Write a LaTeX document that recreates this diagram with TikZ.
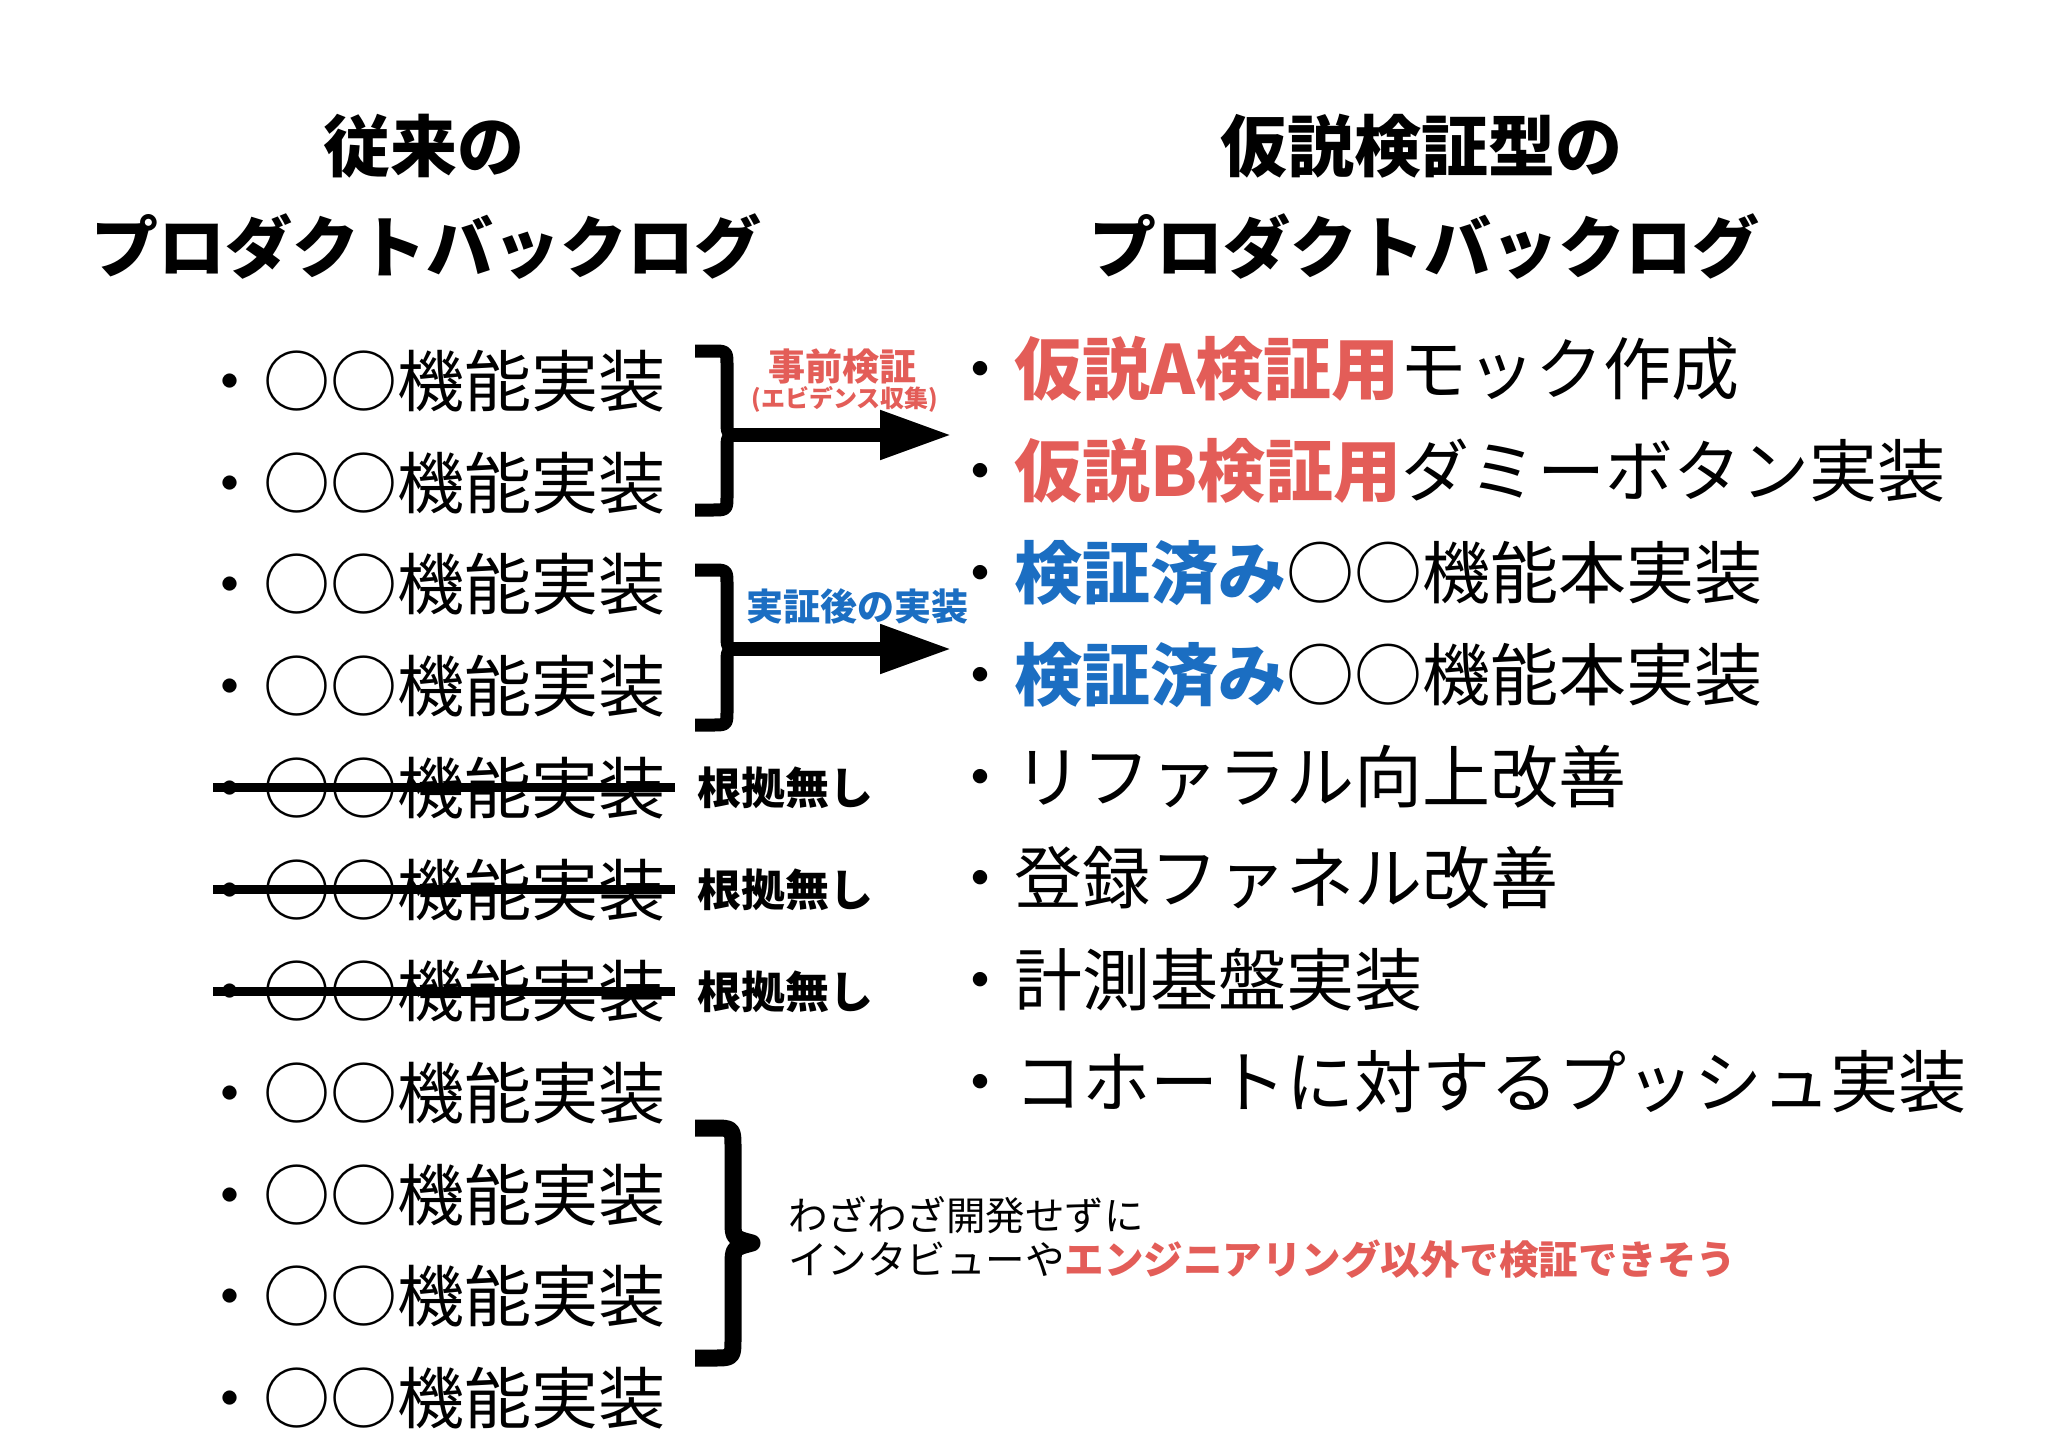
\documentclass[tikz,border=0pt]{standalone}
\usepackage{fontspec}
\setmainfont{Noto Sans CJK JP}
\usetikzlibrary{arrows.meta}
\definecolor{hypred}{HTML}{E35D58}
\definecolor{doneblue}{HTML}{1B6EC2}

\begin{document}
\begin{tikzpicture}[x=1pt,y=-1pt,
  head/.style={anchor=base,inner sep=0,font=\fontsize{67}{80}\selectfont\bfseries},
  item/.style={anchor=base west,inner sep=0,font=\fontsize{67}{80}\selectfont},
  tag/.style={anchor=base,inner sep=0,font=\fontsize{37}{44}\selectfont\bfseries},
  curly/.style={line width=13pt,line join=round},
  bigarrow/.style={line width=14pt,-{Triangle[length=72pt 0,width=46pt 0]}}]
\useasboundingbox (0,0) rectangle (2048,1447);
\node[head] (oldhead1) at (424,172) {従来の}; \node[head] (oldhead2) at (426,273) {プロダクトバックログ};
\node[head] (newhead1) at (1421,172) {仮説検証型の}; \node[head] (newhead2) at (1424,273) {プロダクトバックログ};
\foreach \i in {1,...,11} { \node[item] (old\i) at (196,{381+101.7*(\i-1)+25.5}) {・○○機能実装}; }
\foreach \i in {5,6,7} { \draw[line width=9pt] (213,{381+101.7*(\i-1)}) -- (675,{381+101.7*(\i-1)});
  \node[anchor=base west,inner sep=0,font=\fontsize{44}{52}\selectfont\bfseries] (nobasis\i) at (697,{381+101.7*(\i-1)+17}) {根拠無し}; }
\foreach \i/\t in {1/{\textcolor{hypred}{\bfseries 仮説A検証用}モック作成}, 2/{\textcolor{hypred}{\bfseries 仮説B検証用}ダミーボタン実装},
  3/{\textcolor{doneblue}{\bfseries 検証済み}○○機能本実装}, 4/{\textcolor{doneblue}{\bfseries 検証済み}○○機能本実装},
  5/{リファラル向上改善}, 6/{登録ファネル改善}, 7/{計測基盤実装}, 8/{コホートに対するプッシュ実装}}
  { \node[item,font=\fontsize{68}{80}\selectfont] (new\i) at (946,{369+101.8*(\i-1)+25.8}) {・\t}; }
\draw[curly] (695,351) -- (712,351) .. controls (727,351) .. (727,366) -- (727,420) .. controls (727,435) .. (742,435) .. controls (727,435) .. (727,450) -- (727,495) .. controls (727,510) .. (712,510) -- (695,510);
\draw[curly] (695,570) -- (712,570) .. controls (727,570) .. (727,585) -- (727,634) .. controls (727,649) .. (742,649) .. controls (727,649) .. (727,664) -- (727,710) .. controls (727,725) .. (712,725) -- (695,725);
\draw[curly,line width=17pt] (695,1128) -- (713,1128) .. controls (733,1128) .. (733,1148) -- (733,1220) .. controls (733,1238) .. (752,1243) .. controls (733,1248) .. (733,1266) -- (733,1338) .. controls (733,1358) .. (713,1358) -- (695,1358);
\coordinate (tipA) at (727,435); \coordinate (endA) at (952,435); \coordinate (tipB) at (727,649); \coordinate (endB) at (952,649);
\draw[bigarrow] (tipA) -- (endA); \draw[bigarrow] (tipB) -- (endB);
\node[tag,text=hypred] (pre) at (842,380) {事前検証};
\node[anchor=base,inner sep=0,text=hypred,font=\fontsize{24}{28}\selectfont\bfseries] (evidence) at (845,407) {(エビデンス収集)};
\node[tag,text=doneblue] (post) at (857,620) {実証後の実装};
\node[anchor=base west,inner sep=0,font=\fontsize{39.5}{46}\selectfont] (note1) at (788,1230) {わざわざ開発せずに};
\node[anchor=base west,inner sep=0,font=\fontsize{39.5}{46}\selectfont] (note2) at (788,1274) {インタビューや\textcolor{hypred}{\bfseries エンジニアリング以外で検証できそう}};
\end{tikzpicture}
\end{document}
